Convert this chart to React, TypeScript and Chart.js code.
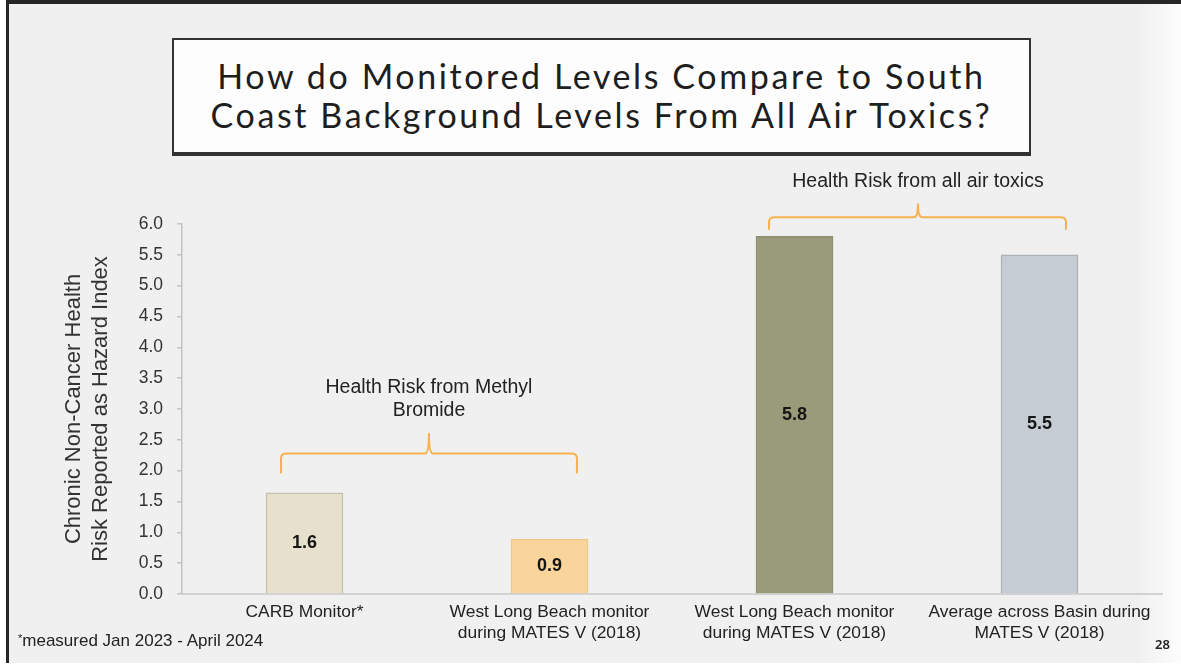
import React, { useEffect, useRef } from "react";
import { Chart, registerables } from "chart.js";

Chart.register(...registerables);

// ---------- data ----------
const categories: string[][] = [
  ["CARB Monitor*"],
  ["West Long Beach monitor", "during MATES V (2018)"],
  ["West Long Beach monitor", "during MATES V (2018)"],
  ["Average across Basin during", "MATES V (2018)"],
];
const hazardIndex = [1.64, 0.89, 5.8, 5.5];
const barColors = ["#e6e0cc", "#f9d59c", "#9a9b7a", "#c5ccd3"];
const barBorders = ["#c6c0ab", "#f1c88a", "#8e8f71", "#aab1b7"];
const yMin = 0;
const yMax = 6;
const yStep = 0.5;
const yTitle = ["Chronic Non-Cancer Health", "Risk Reported as Hazard Index"];

// bracket annotations (x in category index units, y in hazard index units)
const brackets = [
  { x1: -0.096, x2: 1.112, xc: 0.508, yH: 2.28, yEnd: 1.97, yTip: 2.6 },
  { x1: 1.896, x2: 3.108, xc: 2.504, yH: 6.11, yEnd: 5.92, yTip: 6.32 },
];
const bracketLabels = [
  { x: 0.508, y: 3.34, lines: ["Health Risk from Methyl", "Bromide"] },
  { x: 2.504, y: 6.68, lines: ["Health Risk from all air toxics"] },
];

const SANS = "'Liberation Sans', Arial, Helvetica, sans-serif";

const overlayPlugin = {
  id: "overlay",
  afterDatasetsDraw(chart: any) {
    const { ctx, scales } = chart;
    const xs = scales.x;
    const ys = scales.y;
    ctx.save();
    // value labels
    const meta = chart.getDatasetMeta(0);
    ctx.font = `bold 18px ${SANS}`;
    ctx.fillStyle = "#161616";
    ctx.textAlign = "center";
    ctx.textBaseline = "middle";
    meta.data.forEach((bar: any, i: number) => {
      const v = hazardIndex[i];
      ctx.fillText(v.toFixed(1), bar.x, (bar.y + bar.base) / 2);
    });
    // brackets
    ctx.strokeStyle = "#f7b04c";
    ctx.lineWidth = 2;
    ctx.lineJoin = "round";
    ctx.lineCap = "round";
    brackets.forEach((b) => {
      const x1 = xs.getPixelForValue(b.x1);
      const x2 = xs.getPixelForValue(b.x2);
      const xc = xs.getPixelForValue(b.xc);
      const yH = ys.getPixelForValue(b.yH);
      const yE = ys.getPixelForValue(b.yEnd);
      const yT = ys.getPixelForValue(b.yTip);
      const r = 5;
      ctx.beginPath();
      ctx.moveTo(x1, yE);
      ctx.lineTo(x1, yH + r);
      ctx.quadraticCurveTo(x1, yH, x1 + r, yH);
      ctx.lineTo(xc - 4, yH);
      ctx.quadraticCurveTo(xc, yH, xc, yT);
      ctx.quadraticCurveTo(xc, yH, xc + 4, yH);
      ctx.lineTo(x2 - r, yH);
      ctx.quadraticCurveTo(x2, yH, x2, yH + r);
      ctx.lineTo(x2, yE);
      ctx.stroke();
    });
    // bracket labels
    ctx.font = `19.5px ${SANS}`;
    ctx.fillStyle = "#222";
    bracketLabels.forEach((l) => {
      const x = xs.getPixelForValue(l.x);
      const y = ys.getPixelForValue(l.y);
      l.lines.forEach((t, k) => ctx.fillText(t, x, y + k * 23));
    });
    ctx.restore();
  },
};

export default function App() {
  const ref = useRef<HTMLCanvasElement>(null);

  useEffect(() => {
    if (!ref.current) return;
    const chart = new Chart(ref.current, {
      type: "bar",
      data: {
        labels: categories,
        datasets: [
          {
            data: hazardIndex,
            backgroundColor: barColors,
            borderColor: barBorders,
            borderWidth: 1.5,
            barThickness: 77,
          },
        ],
      },
      options: {
        animation: false,
        responsive: false,
        devicePixelRatio: 1,
        layout: { padding: { left: 0, top: 224, right: 19, bottom: 0 } },
        plugins: {
          legend: { display: false },
          tooltip: { enabled: false },
        },
        scales: {
          x: {
            grid: { display: false, drawTicks: false },
            border: { color: "#d2d2d2", width: 2 },
            ticks: {
              color: "#222",
              font: { family: SANS, size: 17.4, lineHeight: 1.18 },
              padding: 8,
              maxRotation: 0,
              autoSkip: false,
            },
            afterFit: (s: any) => {
              s.height = 75;
            },
          },
          y: {
            min: yMin,
            max: yMax,
            grid: {
              drawOnChartArea: false,
              drawTicks: true,
              tickLength: 5,
              color: "#c4c4c4",
              lineWidth: 1.5,
            },
            border: { color: "#c4c4c4", width: 1.5 },
            ticks: {
              stepSize: yStep,
              color: "#333",
              font: { family: SANS, size: 17.5 },
              padding: 14,
              callback: (v: any) => Number(v).toFixed(1),
            },
            title: {
              display: true,
              text: yTitle,
              color: "#333",
              font: { family: SANS, size: 22, lineHeight: 1.2 },
              padding: { top: 61, bottom: 0 },
            },
            afterFit: (s: any) => {
              s.width = 182;
            },
          },
        },
      },
      plugins: [overlayPlugin],
    });
    return () => chart.destroy();
  }, []);

  return (
    <div
      style={{
        position: "fixed",
        left: 0,
        top: 0,
        width: 1181,
        height: 669,
        background: "#ffffff",
        overflow: "hidden",
      }}
    >
      <div
        style={{
          position: "absolute",
          left: 6,
          top: 0,
          width: 1175,
          height: 663,
          background: "#f0f0f0",
          borderTop: "4px solid #262626",
          borderLeft: "3px solid #262626",
          boxSizing: "border-box",
        }}
      />
      <div
        style={{
          position: "absolute",
          left: 1136,
          top: 4,
          width: 45,
          height: 659,
          background: "linear-gradient(to right, rgba(250,250,250,0) 0%, rgba(253,253,253,0.95) 100%)",
        }}
      />
      <div
        style={{
          position: "absolute",
          left: 172,
          top: 38,
          width: 859,
          height: 118,
          boxSizing: "border-box",
          background: "#fdfdfd",
          border: "2px solid #333",
          borderBottom: "4px solid #333",
          display: "flex",
          flexDirection: "column",
          alignItems: "center",
          justifyContent: "center",
          fontFamily: "Lato, 'Open Sans', sans-serif",
          fontSize: 34,
          letterSpacing: 2.6,
          lineHeight: "39px",
          color: "#1e1e1e",
          paddingBottom: 2,
        }}
      >
        <div>How do Monitored Levels Compare to South</div>
        <div>Coast Background Levels From All Air Toxics?</div>
      </div>
      <canvas
        ref={ref}
        width={1181}
        height={669}
        style={{ position: "absolute", left: 0, top: 0, width: 1181, height: 669 }}
      />
      <div
        style={{
          position: "absolute",
          left: 18,
          top: 631,
          fontFamily: SANS,
          fontSize: 17,
          color: "#222",
          whiteSpace: "nowrap",
        }}
      >
        <span style={{ fontSize: 11, verticalAlign: "4px" }}>*</span>measured Jan 2023 - April 2024
      </div>
      <div
        style={{
          position: "absolute",
          left: 1155,
          top: 635,
          fontFamily: "'Noto Sans', sans-serif",
          fontSize: 13,
          fontWeight: 600,
          color: "#222",
        }}
      >
        28
      </div>
    </div>
  );
}
